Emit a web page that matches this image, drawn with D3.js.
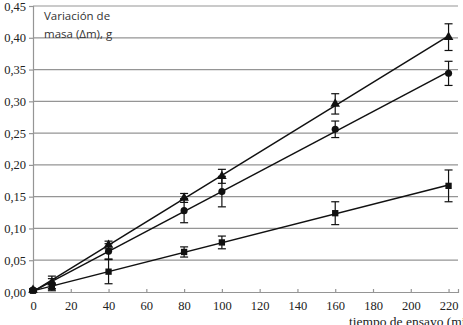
<!DOCTYPE html>
<html>
<head>
<meta charset="utf-8">
<script src="https://cdn.jsdelivr.net/npm/d3@7"></script>
<style>
  body { margin: 0; background: #fff; }
  svg { display: block; }
</style>
</head>
<body>
<div id="chart"></div>
<script>
const tiempo = [0, 10, 40, 80, 100, 160, 220];
const masaTriangulo = [0.003, 0.015, 0.074, 0.148, 0.182, 0.296, 0.401];
const errTriangulo = [0.002, 0.010, 0.006, 0.007, 0.011, 0.016, 0.021];
const masaCirculo = [0.003, 0.013, 0.064, 0.128, 0.158, 0.256, 0.344];
const errCirculo = [0.002, 0.008, 0.012, 0.019, 0.024, 0.013, 0.019];
const masaCuadrado = [0.002, 0.008, 0.032, 0.063, 0.078, 0.124, 0.167];
const errCuadrado = [0.002, 0.006, 0.019, 0.008, 0.010, 0.018, 0.025];
const yTicks = [0, 0.05, 0.10, 0.15, 0.20, 0.25, 0.30, 0.35, 0.40, 0.45];
const xTicks = [0, 20, 40, 60, 80, 100, 120, 140, 160, 180, 200, 220];

const width = 463, height = 325;
const svg = d3.select('#chart').append('svg')
    .attr('width', width)
    .attr('height', height);

const x = d3.scaleLinear().domain([0, 225]).range([33, 458]);
const y = d3.scaleLinear().domain([0, 0.45]).range([292, 6]);
const fmt = d => d3.format('.2f')(d).replace('.', ',');

// grid
svg.append('g').selectAll('line')
    .data(yTicks.slice(1))
    .enter().append('line')
    .attr('x1', x(0)).attr('x2', x(225))
    .attr('y1', d => y(d)).attr('y2', d => y(d))
    .attr('stroke', '#959595')
    .attr('stroke-width', 1.2);

// axes
const yAxis = svg.append('g')
    .attr('transform', `translate(${x(0)},0)`)
    .call(d3.axisLeft(y).tickValues(yTicks).tickFormat(fmt).tickSize(4).tickPadding(3));
const xAxis = svg.append('g')
    .attr('transform', `translate(0,${y(0)})`)
    .call(d3.axisBottom(x).tickValues(xTicks).tickFormat(d3.format('d')).tickSize(-3).tickPadding(9));
[yAxis, xAxis].forEach(a => {
    a.select('.domain').attr('stroke', '#959595').attr('stroke-width', 1.2);
    a.selectAll('.tick line').attr('stroke', '#959595').attr('stroke-width', 1.2);
    a.selectAll('text')
        .attr('font-family', 'Liberation Serif, Times New Roman, serif')
        .attr('font-size', 12.5)
        .attr('fill', '#222');
});
xAxis.selectAll('.tick line').attr('y1', -3).attr('y2', 0);

// axis titles
const titulo = svg.append('text')
    .attr('font-family', 'Open Sans, DejaVu Sans, sans-serif')
    .attr('font-size', 11.5)
    .attr('fill', '#333');
titulo.append('tspan').attr('x', 44).attr('y', 20).text('Variación de');
titulo.append('tspan').attr('x', 44).attr('y', 38).text('masa (Δm), g');
svg.append('text')
    .attr('x', 349).attr('y', 326)
    .attr('font-family', 'Liberation Serif, Times New Roman, serif')
    .attr('font-size', 13.5)
    .attr('fill', '#222')
    .text('tiempo de ensayo (min)');

const series = [
    { vals: masaTriangulo, err: errTriangulo, sym: d3.symbolTriangle, size: 40 },
    { vals: masaCirculo, err: errCirculo, sym: d3.symbolCircle, size: 40 },
    { vals: masaCuadrado, err: errCuadrado, sym: d3.symbolSquare, size: 40 }
];

series.forEach(s => {
    const pts = tiempo.map((t, i) => ({ t: t, v: s.vals[i], e: s.err[i] }));
    // linear trend line
    const mx = d3.mean(pts, d => d.t), my = d3.mean(pts, d => d.v);
    const slope = d3.sum(pts, d => (d.t - mx) * (d.v - my)) / d3.sum(pts, d => (d.t - mx) * (d.t - mx));
    const icpt = my - slope * mx;
    const line = d3.line().x(d => x(d[0])).y(d => y(d[1]));
    svg.append('path')
        .attr('d', line([[0, icpt], [220, icpt + slope * 220]]))
        .attr('fill', 'none')
        .attr('stroke', '#111')
        .attr('stroke-width', 1.5);

    const g = svg.append('g');
    const eb = g.selectAll('.eb').data(pts).enter().append('g');
    eb.append('line')
        .attr('x1', d => x(d.t)).attr('x2', d => x(d.t))
        .attr('y1', d => y(d.v - d.e)).attr('y2', d => y(d.v + d.e))
        .attr('stroke', '#111').attr('stroke-width', 1.2);
    eb.append('line')
        .attr('x1', d => x(d.t) - 4).attr('x2', d => x(d.t) + 4)
        .attr('y1', d => y(d.v - d.e)).attr('y2', d => y(d.v - d.e))
        .attr('stroke', '#111').attr('stroke-width', 1.2);
    eb.append('line')
        .attr('x1', d => x(d.t) - 4).attr('x2', d => x(d.t) + 4)
        .attr('y1', d => y(d.v + d.e)).attr('y2', d => y(d.v + d.e))
        .attr('stroke', '#111').attr('stroke-width', 1.2);
    g.selectAll('.m').data(pts).enter().append('path')
        .attr('transform', d => `translate(${x(d.t)},${y(d.v)})`)
        .attr('d', d3.symbol().type(s.sym).size(s.size))
        .attr('fill', '#111');
});
</script>
</body>
</html>
